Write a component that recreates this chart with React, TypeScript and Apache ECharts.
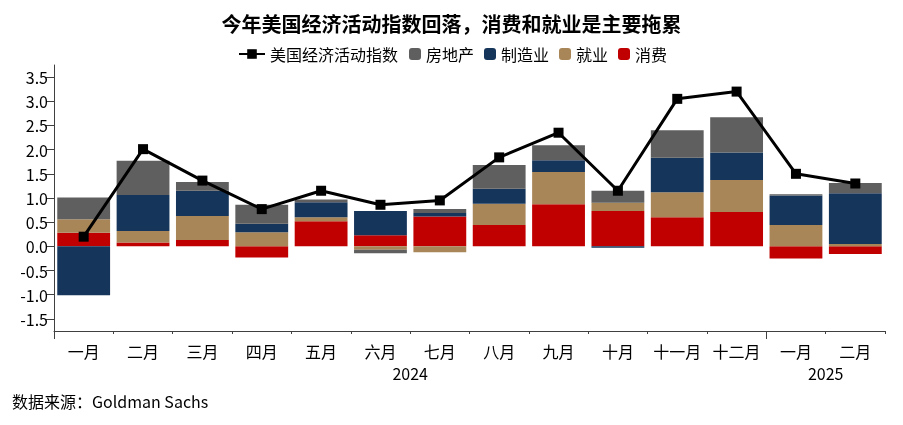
import React, { useEffect, useRef } from "react";
import * as echarts from "echarts";

const categories = ["一月", "二月", "三月", "四月", "五月", "六月", "七月", "八月", "九月", "十月", "十一月", "十二月", "一月", "二月"];
const indexValues = [0.20, 2.01, 1.36, 0.77, 1.15, 0.86, 0.95, 1.84, 2.35, 1.15, 3.05, 3.20, 1.50, 1.30];
const consumption = [0.28, 0.08, 0.13, -0.23, 0.52, 0.23, 0.62, 0.44, 0.87, 0.73, 0.60, 0.71, -0.25, -0.16];
const employment = [0.28, 0.24, 0.50, 0.29, 0.08, -0.07, -0.12, 0.44, 0.67, 0.17, 0.52, 0.66, 0.44, 0.05];
const manufacturing = [-1.01, 0.74, 0.52, 0.18, 0.31, 0.50, 0.07, 0.31, 0.24, -0.03, 0.71, 0.57, 0.61, 1.05];
const housing = [0.45, 0.71, 0.18, 0.39, 0.06, -0.07, 0.08, 0.49, 0.31, 0.25, 0.57, 0.73, 0.03, 0.21];
const yTicks = [-1.5, -1, -0.5, 0, 0.5, 1, 1.5, 2, 2.5, 3, 3.5];
const yearLabels = [
  { pos: 6, text: "2024" },
  { pos: 13, text: "2025" },
];
const yearTicks = [0, 12];

const FONT = "'Noto Sans CJK SC', 'Noto Sans', sans-serif";
const AXIS_COLOR = "#404040";

export default function App() {
  const ref = useRef<HTMLDivElement>(null);
  useEffect(() => {
    if (!ref.current) return;
    const chart = echarts.init(ref.current, null, { renderer: "svg" });
    const barSeries = (name: string, data: number[], color: string) => ({
      name,
      type: "bar",
      stack: "total",
      data,
      barCategoryGap: "11%",
      itemStyle: { color },
      emphasis: { disabled: true },
    });
    chart.setOption({
      animation: false,
      textStyle: { fontFamily: FONT },
      title: {
        text: "今年美国经济活动指数回落，消费和就业是主要拖累",
        left: "center",
        top: 8,
        textStyle: { fontSize: 20, fontWeight: "bold", color: "#000", fontFamily: FONT },
      },
      legend: [
        {
          data: ["美国经济活动指数"],
          left: 233,
          top: 41,
          itemWidth: 26,
          itemHeight: 12,
          textStyle: { fontSize: 16, color: "#000", fontFamily: FONT },
        },
        {
          data: ["房地产", "制造业", "就业", "消费"],
          left: 404,
          top: 41,
          itemWidth: 12,
          itemHeight: 12,
          itemGap: 10,
          textStyle: { fontSize: 16, color: "#000", fontFamily: FONT },
        },
      ],
      grid: { left: 54, right: 18, top: 65, bottom: 94, containLabel: false },
      xAxis: [
        {
          type: "category",
          data: categories,
          boundaryGap: true,
          axisLine: { show: true, onZero: false, lineStyle: { color: AXIS_COLOR, width: 1 } },
          axisTick: { show: true, alignWithLabel: false, interval: 0, length: 3, lineStyle: { color: AXIS_COLOR } },
          axisLabel: { interval: 0, margin: 12, fontSize: 16, color: "#000", fontFamily: FONT },
          splitLine: { show: false },
        },
        {
          type: "value",
          position: "bottom",
          min: 0,
          max: 14,
          axisLine: { show: false, onZero: false },
          axisTick: { show: true, customValues: yearTicks, length: 8, lineStyle: { color: AXIS_COLOR } },
          axisLabel: {
            show: true,
            customValues: yearLabels.map((d) => d.pos),
            margin: 34,
            fontSize: 16,
            color: "#000",
            fontFamily: FONT,
            formatter: (v: number) => {
              const f = yearLabels.find((d) => d.pos === v);
              return f ? f.text : "";
            },
          },
          splitLine: { show: false },
        },
      ],
      yAxis: {
        type: "value",
        min: -1.75,
        max: 3.75,
        axisLine: { show: true, lineStyle: { color: AXIS_COLOR, width: 1 } },
        axisTick: { show: true, customValues: yTicks, length: 8, inside: false, lineStyle: { color: AXIS_COLOR } },
        axisLabel: {
          customValues: yTicks,
          margin: 6,
          fontSize: 16,
          color: "#000",
          fontFamily: FONT,
          formatter: (v: number) => v.toFixed(1),
        },
        splitLine: { show: false },
      },
      series: [
        barSeries("消费", consumption, "#c00000"),
        barSeries("就业", employment, "#a98658"),
        barSeries("制造业", manufacturing, "#16355b"),
        barSeries("房地产", housing, "#5f5f5f"),
        {
          name: "美国经济活动指数",
          type: "line",
          data: indexValues,
          symbol: "rect",
          symbolSize: 10,
          z: 10,
          lineStyle: { color: "#000", width: 3 },
          itemStyle: { color: "#000" },
          emphasis: { disabled: true },
        },
      ],
      graphic: [
        {
          type: "text",
          left: 12,
          top: 393,
          style: { text: "数据来源：Goldman Sachs", fontSize: 16, fill: "#000", fontFamily: FONT },
        },
      ],
    });
    return () => chart.dispose();
  }, []);
  return <div ref={ref} style={{ position: "fixed", left: 0, top: 0, width: 903, height: 425 }} />;
}
